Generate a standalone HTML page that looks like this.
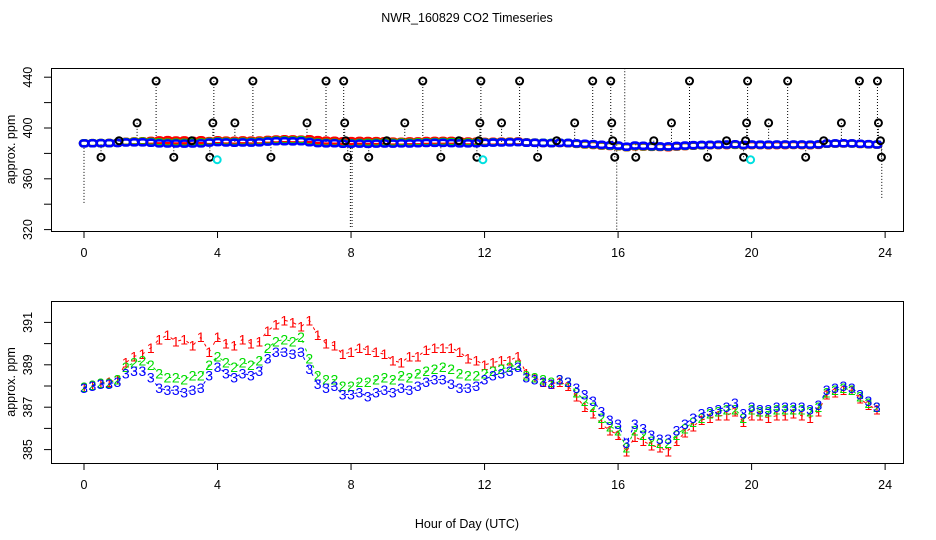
<!DOCTYPE html>
<html><head><meta charset="utf-8"><style>
html,body{margin:0;padding:0;background:#fff}
svg{display:block;font-family:"Liberation Sans",sans-serif}
</style></head><body>
<svg id="c" width="936" height="540" xmlns="http://www.w3.org/2000/svg">
<text x="467" y="22" text-anchor="middle" font-size="12.5">NWR_160829  CO2 Timeseries</text>
<text x="467" y="528" text-anchor="middle" font-size="12.5">Hour of Day (UTC)</text>
</svg>
<script>
const hours = [0,0.25,0.5,0.75,1,1.25,1.5,1.75,2,2.25,2.5,2.75,3,3.25,3.5,3.75,4,4.25,4.5,4.75,5,5.25,5.5,5.75,6,6.25,6.5,6.75,7,7.25,7.5,7.75,8,8.25,8.5,8.75,9,9.25,9.5,9.75,10,10.25,10.5,10.75,11,11.25,11.5,11.75,12,12.25,12.5,12.75,13,13.25,13.5,13.75,14,14.25,14.5,14.75,15,15.25,15.5,15.75,16,16.25,16.5,16.75,17,17.25,17.5,17.75,18,18.25,18.5,18.75,19,19.25,19.5,19.75,20,20.25,20.5,20.75,21,21.25,21.5,21.75,22,22.25,22.5,22.75,23,23.25,23.5,23.75];
const series3 = [387.9,388.0,388.1,388.1,388.2,388.6,388.7,388.7,388.4,387.9,387.8,387.8,387.7,387.8,387.9,388.5,388.9,388.6,388.4,388.6,388.5,388.7,389.3,389.6,389.6,389.5,389.6,388.8,388.1,387.9,388.0,387.6,387.6,387.7,387.5,387.7,387.8,387.7,387.9,387.8,388.0,388.2,388.3,388.3,388.1,387.9,387.9,388.0,388.3,388.5,388.6,388.7,388.9,388.4,388.3,388.2,388.1,388.3,388.2,387.9,387.6,387.3,386.8,386.4,386.2,385.3,386.2,386.0,385.7,385.5,385.5,385.9,386.2,386.5,386.7,386.8,386.9,387.0,387.2,386.7,387.0,386.9,386.9,387.0,387.0,387.0,387.0,386.9,387.1,387.8,387.9,388.0,387.9,387.6,387.3,387.0];
const series2 = [387.95,388.05,388.15,388.15,388.3,388.9,389.1,389.2,389.0,388.6,388.4,388.4,388.3,388.5,388.5,389.0,389.4,389.1,388.9,389.1,389.0,389.2,389.8,390.1,390.2,390.1,390.3,389.3,388.5,388.3,388.3,388.0,388.0,388.2,388.2,388.3,388.4,388.3,388.5,388.4,388.6,388.7,388.8,388.9,388.8,388.6,388.5,388.5,388.6,388.7,388.8,388.9,389.0,388.5,388.4,388.3,388.2,388.3,388.2,387.7,387.3,387.0,386.5,386.1,385.9,385.1,385.9,385.7,385.4,385.3,385.3,385.7,386.0,386.3,386.5,386.7,386.8,386.9,386.9,386.5,386.9,386.8,386.8,386.9,386.9,386.9,386.9,386.8,387.0,387.7,387.8,387.9,387.8,387.5,387.2,387.0];
const series1 = [387.95,388.05,388.15,388.2,388.3,389.1,389.4,389.5,389.8,390.2,390.4,390.1,390.2,389.9,390.3,389.6,390.3,390.0,389.9,390.2,390.0,390.1,390.6,390.9,391.1,391.0,390.8,391.1,390.4,390.0,389.9,389.5,389.6,389.8,389.7,389.6,389.5,389.2,389.1,389.4,389.4,389.7,389.8,389.8,389.8,389.6,389.3,389.2,389.0,389.1,389.2,389.2,389.4,388.6,388.4,388.2,388.1,388.2,388.0,387.5,387.0,386.7,386.2,385.9,385.7,384.9,385.6,385.4,385.2,385.1,384.9,385.4,385.8,386.1,386.4,386.5,386.6,386.6,386.8,386.3,386.6,386.6,386.5,386.6,386.6,386.7,386.6,386.5,386.8,387.6,387.7,387.8,387.8,387.4,387.1,386.9];
const outHours = [2.16,3.89,5.06,7.25,7.78,10.15,11.89,13.05,15.24,15.78,18.14,19.88,21.08,23.23,23.77,1.59,3.86,4.52,6.68,7.81,9.61,11.86,12.51,14.70,15.81,17.60,19.85,20.51,22.69,23.80,0.51,2.69,3.77,5.60,7.90,8.53,10.69,11.77,13.59,15.90,16.53,18.68,19.76,21.62,23.89,1.05,3.23,7.84,9.07,11.23,11.83,14.16,15.84,17.07,19.25,19.82,22.16,23.86];
const outValues = [437,437,437,437,437,437,437,437,437,437,437,437,437,437,437,404,404,404,404,404,404,404,404,404,404,404,404,404,404,404,377,377,377,377,377,377,377,377,377,377,377,377,377,377,377,390,390,390,390,390,390,390,390,390,390,390,390,390];
const cyanHours = [3.99,11.95,19.97];
const cyanValues = [375,375,375];
const dropHours = [0.0,7.98,8.03,15.96,23.9,16.2];
const dropValues = [341,322,322,320,345,447];
const xTicks = [0,4,8,12,16,20,24];
const topYTicks = [320,340,360,380,400,420,440];
const topYLabels = [320,360,400,440];
const botYTicks = [385,386,387,388,389,390,391];
const botYLabels = [385,387,389,391];

const svg = document.getElementById('c');
const NS = 'http://www.w3.org/2000/svg';
function mk(tag, attrs, parent){const e=document.createElementNS(NS,tag);for(const k in attrs)e.setAttribute(k,attrs[k]);(parent||svg).appendChild(e);return e;}
const X = h => 84 + h*33.38;
const L = 51, R = 903;
const topY = v => 128 - (v-400)*1.27;
const botY = v => 386 - (v-388)*21.2;
const panels = [
 {name:'top', t:68, b:231, Y:topY, ticks:topYTicks, labels:topYLabels},
 {name:'bottom', t:301, b:463, Y:botY, ticks:botYTicks, labels:botYLabels}
];
panels.forEach(p=>{
  const g = mk('g',{});
  
  
  const box = mk('rect',{x:L+0.5,y:p.t+0.5,width:R-L,height:p.b-p.t,fill:'none',stroke:'#000','stroke-width':1},g);
  
  
  const xa = mk('g',{},g);
  
  
  xTicks.forEach(t=>{
    mk('line',{x1:X(t),x2:X(t),y1:p.b,y2:p.b+7,stroke:'#000'},xa);
    const tx = mk('text',{x:X(t),y:p.b+26,'text-anchor':'middle','font-size':12.5},xa);
    tx.textContent = t;
  });
  const ya = mk('g',{},g);
  
  
  p.ticks.forEach(t=>{ mk('line',{x1:L-7,x2:L,y1:p.Y(t),y2:p.Y(t),stroke:'#000'},ya); });
  p.labels.forEach(t=>{
    const tx = mk('text',{x:0,y:0,'text-anchor':'middle','font-size':12.5,transform:`translate(32,${p.Y(t)}) rotate(-90)`},ya);
    tx.textContent = t;
  });
  const yt = mk('text',{x:0,y:0,'text-anchor':'middle','font-size':12.5,transform:`translate(15,${(p.t+p.b)/2}) rotate(-90)`},g);
  yt.textContent = 'approx. ppm';
  
  
});

const dg = mk('g',{stroke:'#000','stroke-width':1,'stroke-dasharray':'1,2'});


outHours.forEach((h,i)=>{ mk('line',{x1:X(h),x2:X(h),y1:topY(outValues[i]),y2:topY(388.5)},dg); });
dropHours.forEach((h,i)=>{ mk('line',{x1:X(h),x2:X(h),y1:topY(dropValues[i]),y2:topY(388)},dg); });

const cols = ['#ff0000','#00dd00','#0000ff'];
const allS = [series1,series2,series3];
allS.forEach((s,k)=>{
  const g = mk('g',{fill:'none',stroke:cols[k],'stroke-width':2.6});
  
  
  s.forEach((v,i)=>{ mk('rect',{x:X(hours[i])-4,y:topY(v)-3,width:8.4,height:6,rx:3},g); });
});
const og = mk('g',{fill:'none',stroke:'#000','stroke-width':2});


outHours.forEach((h,i)=>{ mk('circle',{cx:X(h),cy:topY(outValues[i]),r:3.5},og); });
const cg = mk('g',{fill:'none',stroke:'#00e0e0','stroke-width':2});


cyanHours.forEach((h,i)=>{ mk('circle',{cx:X(h),cy:topY(cyanValues[i]),r:3.5},cg); });

const chars = ['1','2','3'];
allS.forEach((s,k)=>{
  const g = mk('g',{fill:cols[k],'font-size':14,'text-anchor':'middle'});
  
  
  mk('polyline',{fill:'none',stroke:cols[k],'stroke-width':1,'stroke-dasharray':'3,6',points:s.map((v,i)=>X(hours[i])+','+botY(v)).join(' ')},g);
  s.forEach((v,i)=>{
    const t = mk('text',{x:X(hours[i]),y:botY(v)+5},g);
    t.textContent = chars[k];
  });
});
</script>
</body></html>
